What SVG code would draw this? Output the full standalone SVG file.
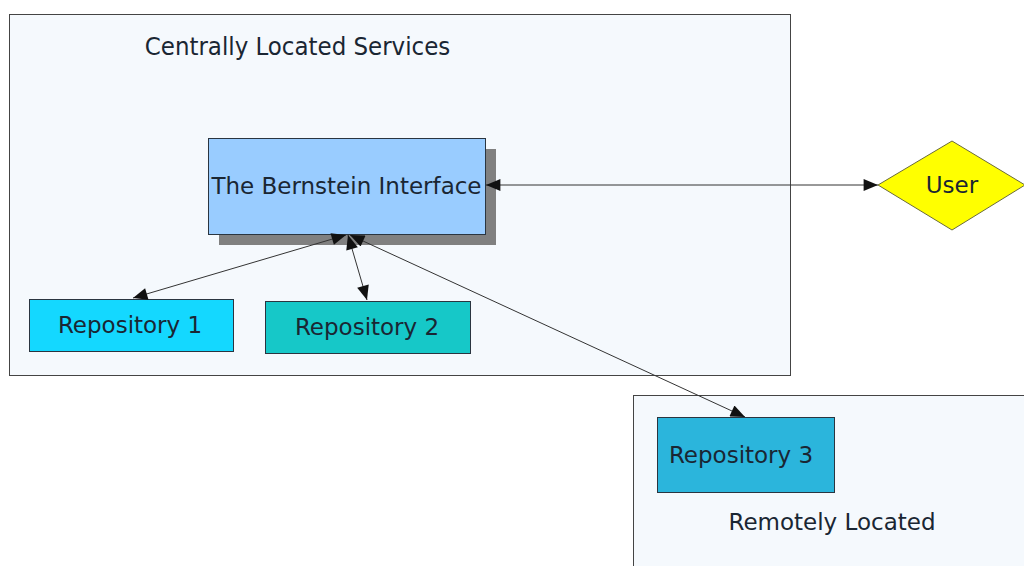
<svg xmlns="http://www.w3.org/2000/svg" width="1024" height="566" viewBox="0 0 1024 566">
<style>
.t{font-family:"DejaVu Sans",sans-serif;font-size:23px;fill:#1a2633;text-anchor:middle;dominant-baseline:central}
.box{stroke:#2a3540;stroke-width:1}
.con{stroke:#333;stroke-width:1;fill:none;marker-start:url(#ah);marker-end:url(#ah)}
</style>
<defs>
<marker id="ah" viewBox="0 0 12 10" refX="12" refY="5" markerWidth="17" markerHeight="12" markerUnits="userSpaceOnUse" orient="auto-start-reverse">
<path d="M0,0 L12,5 L0,10 Z" fill="#111"/>
</marker>
</defs>
<rect width="1024" height="566" fill="#fff"/>
<g id="central">
<rect x="9.5" y="14.5" width="781" height="361" fill="#f5f9fd" stroke="#444"/>
<text class="t" x="297.5" y="46" style="font-family:'DejaVu Sans Condensed','DejaVu Sans',sans-serif;font-size:25.5px">Centrally Located Services</text>
</g>
<g id="remote">
<rect x="633.5" y="395.5" width="400" height="180" fill="#f5f9fd" stroke="#444"/>
<text class="t" x="832" y="522">Remotely Located</text>
</g>
<g id="bernstein">
<rect x="219" y="149" width="277" height="96" fill="#808080"/>
<rect class="box" x="208.5" y="138.5" width="277" height="96" fill="#99ccff"/>
<text class="t" x="346.5" y="186">The Bernstein Interface</text>
</g>
<g id="repo1">
<rect class="box" x="29.5" y="299.5" width="204" height="52" fill="#14d8ff"/>
<text class="t" x="130" y="325">Repository 1</text>
</g>
<g id="repo2">
<rect class="box" x="265.5" y="301.5" width="205" height="52" fill="#16c8c8"/>
<text class="t" x="367" y="327">Repository 2</text>
</g>
<g id="repo3">
<rect class="box" x="657.5" y="417.5" width="177" height="75" fill="#2bb5dc"/>
<text class="t" x="741" y="455">Repository 3</text>
</g>
<g id="user">
<polygon points="878,185 952,141 1025,185 952,230" fill="#ffff00" stroke="#6b6b3a"/>
<text class="t" x="952" y="185">User</text>
</g>
<g id="connectors">
<line class="con" x1="486" y1="185" x2="878" y2="185"/>
<line class="con" x1="346" y1="235" x2="133" y2="298"/>
<line class="con" x1="348" y1="235" x2="367" y2="300"/>
<line class="con" x1="350" y1="235" x2="745" y2="417"/>
</g>
</svg>
